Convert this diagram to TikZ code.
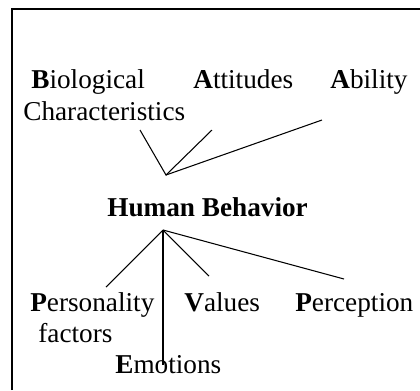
\documentclass[tikz,border=0pt]{standalone}
\usepackage{fontspec}
\setmainfont{Liberation Serif}
\usetikzlibrary{positioning}

\begin{document}
\begin{tikzpicture}[x=0.02cm,y=-0.02cm,
    label/.style={anchor=base west,inner sep=0pt,font=\fontsize{15.5}{18}\selectfont},
    spoke/.style={line width=0.6pt}]
  \useasboundingbox (0,0) rectangle (420,390);
  \draw[line width=1.1pt] (12,390) -- (12,9) -- (420,9);

  % factors above
  \node[label] (bio)   at (31,88)   {\textbf{B}iological};
  \node[label] (chr)   at (23,120)  {Characteristics};
  \node[label] (att)   at (193,88)  {\textbf{A}ttitudes};
  \node[label] (abl)   at (330,88)  {\textbf{A}bility};

  \node[label] (hb)    at (107,216) {\textbf{Human Behavior}};

  % factors below
  \node[label] (pers)  at (30,311)  {\textbf{P}ersonality};
  \node[label] (fac)   at (38,342)  {factors};
  \node[label] (emo)   at (115,373) {\textbf{E}motions};
  \node[label] (val)   at (184,311) {\textbf{V}alues};
  \node[label] (perc)  at (295,311) {\textbf{P}erception};

  \coordinate (up)    at (166,175);
  \coordinate (down)  at (163,230);
  \coordinate (bioE)  at (140,130);
  \coordinate (attE)  at (212,130);
  \coordinate (ablE)  at (322,120);
  \coordinate (persE) at (106,287);
  \coordinate (emoE)  at (163,365);
  \coordinate (valE)  at (209,276);
  \coordinate (percE) at (344,279);

  \draw[spoke] (bioE) -- (up) -- (attE);
  \draw[spoke] (up) -- (ablE);
  \draw[spoke] (down) -- (persE);
  \draw[spoke] (down) -- (emoE);
  \draw[spoke] (down) -- (valE);
  \draw[spoke] (down) -- (percE);
\end{tikzpicture}
\end{document}
